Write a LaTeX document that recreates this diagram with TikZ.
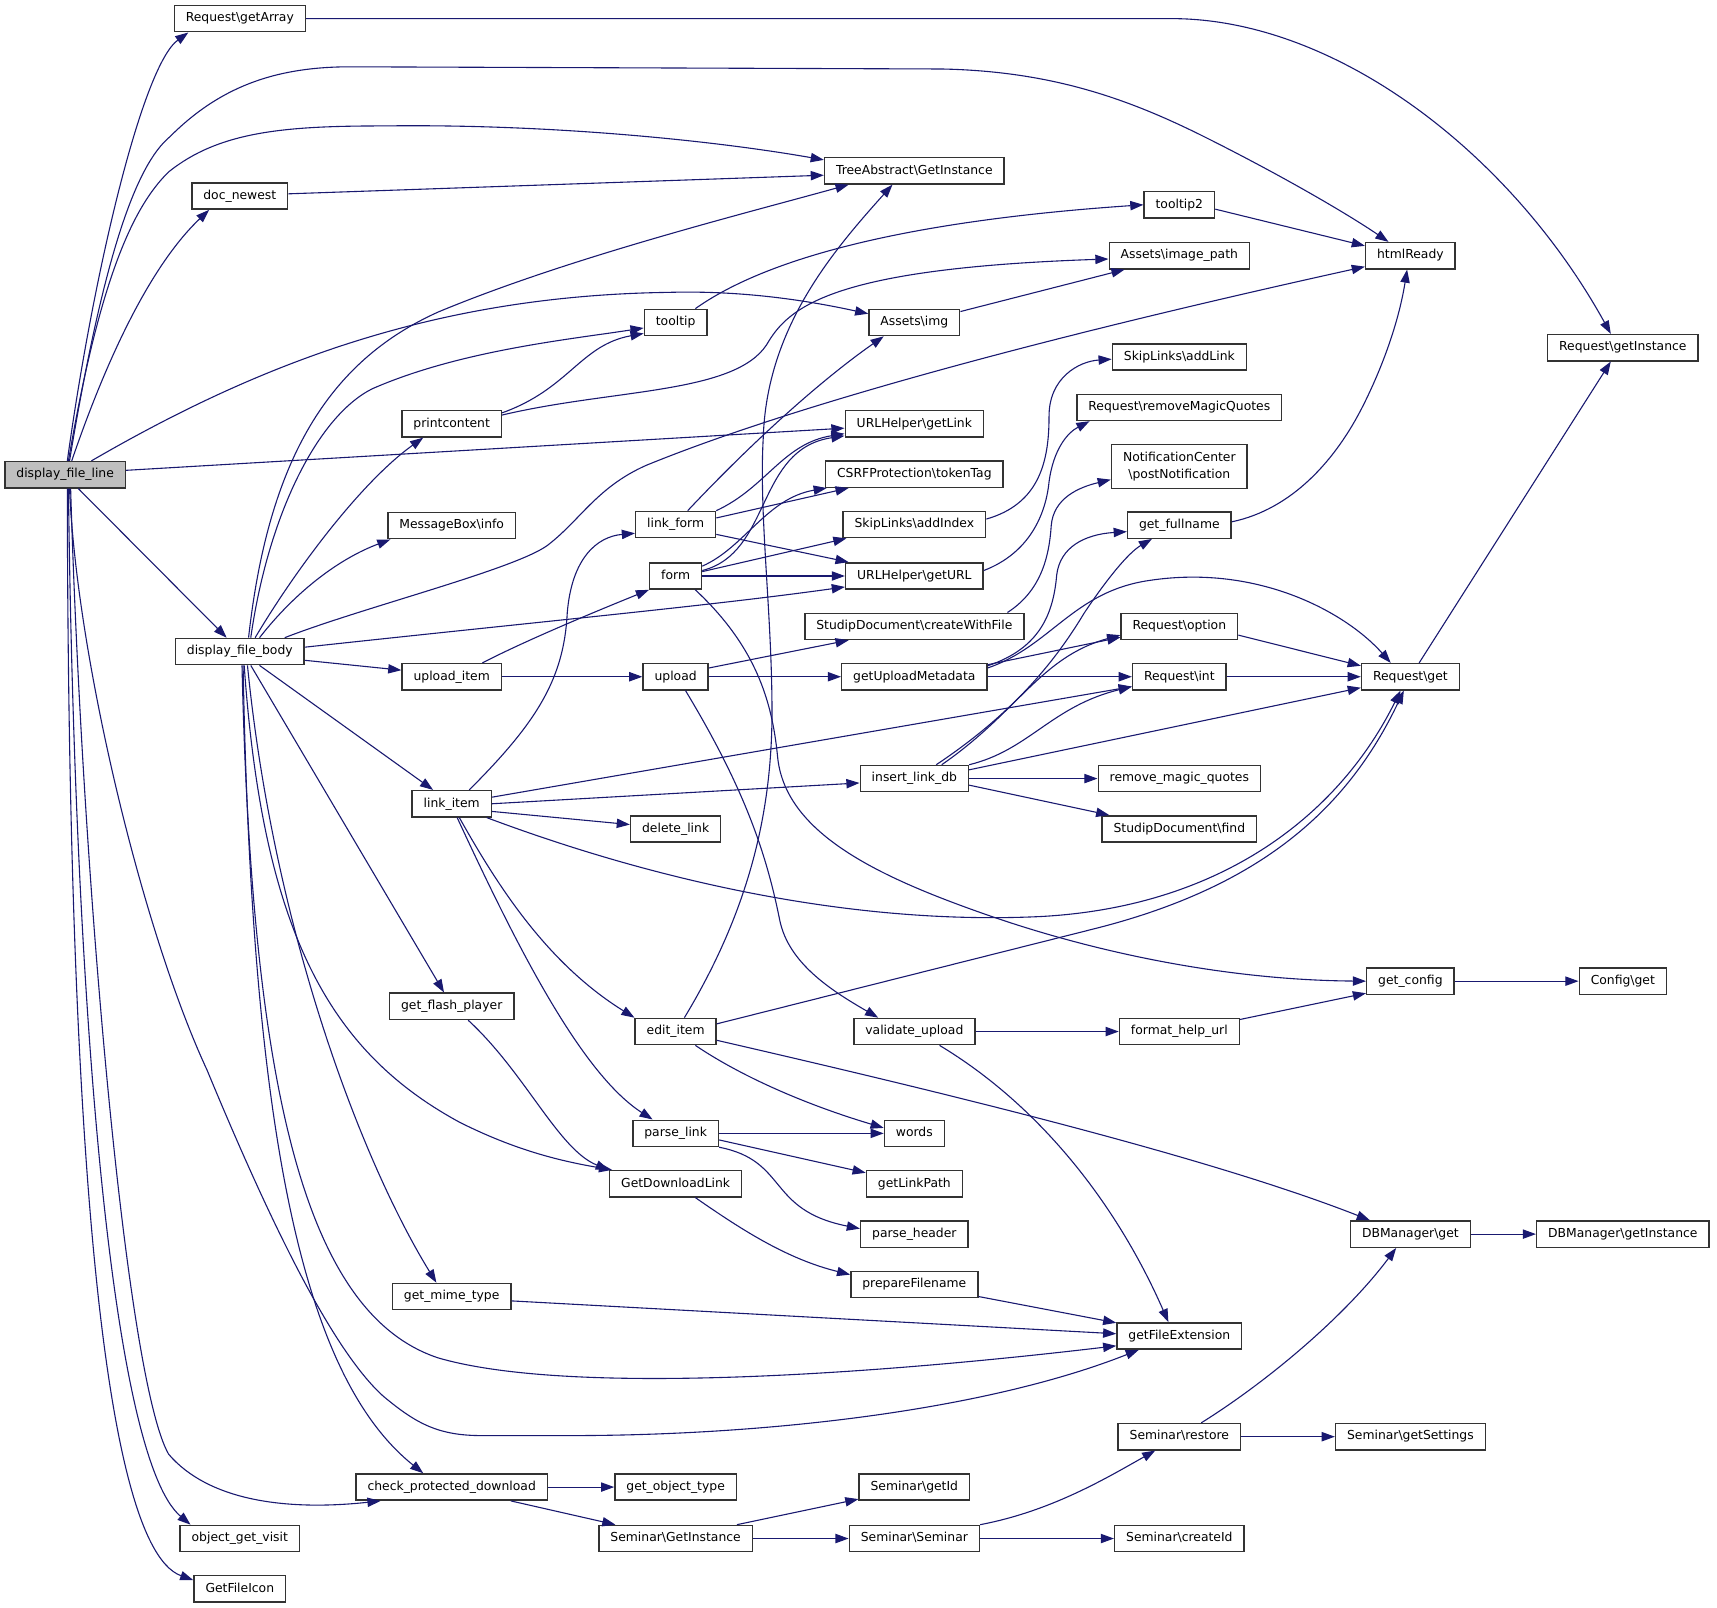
\documentclass[tikz,border=0pt]{standalone}
\usepackage{fontspec}
\setmainfont{DejaVu Sans}
\usetikzlibrary{arrows.meta}
\definecolor{edgeblue}{HTML}{191970}
\newcommand{\bsl}{\textbackslash}
\begin{document}
\begin{tikzpicture}[x=1pt,y=-1pt,
  fnb/.style={draw=black!80, line width=1.3pt, fill=white, inner xsep=10.5pt, inner ysep=0pt,
    minimum height=24pt, font=\fontsize{11.3}{14.8}\selectfont},
  fn/.style={fnb, text height=8.4pt, text depth=2.4pt},
  fnmain/.style={fn, fill=black!25},
  call/.style={draw=edgeblue, line width=1pt, -{Triangle[length=12pt,width=8.5pt]}}]
\fill[white] (0,0) rectangle (1568,1468);
\useasboundingbox (0,0) rectangle (1568,1468);

% nodes
\node[fnmain] (dfl) at (59.5,433.5) {display\_file\_line};
\node[fn] (getArray) at (219,17) {Request\bsl{}getArray};
\node[fn] (docnewest) at (219,179) {doc\_newest};
\node[fn] (dfb) at (219,595) {display\_file\_body};
\node[fn] (ogv) at (219,1405) {object\_get\_visit};
\node[fn] (gfi) at (219,1451) {GetFileIcon};
\node[fn] (printcontent) at (412.5,387) {printcontent};
\node[fn] (msgbox) at (412.5,480) {MessageBox\bsl{}info};
\node[fn] (uploaditem) at (412.5,618) {upload\_item};
\node[fn] (linkitem) at (412.5,734) {link\_item};
\node[fn] (gfp) at (412.5,919) {get\_flash\_player};
\node[fn] (gmt) at (412.5,1184) {get\_mime\_type};
\node[fn] (cpd) at (412.5,1358) {check\_protected\_download};
\node[fn] (tooltip) at (617,294.5) {tooltip};
\node[fn] (linkform) at (617,479) {link\_form};
\node[fn] (form) at (617,526) {form};
\node[fn] (upload) at (617,618) {upload};
\node[fn] (deletelink) at (617,757) {delete\_link};
\node[fn] (edititem) at (617,942) {edit\_item};
\node[fn] (parselink) at (617,1035) {parse\_link};
\node[fn] (gdl) at (617,1081) {GetDownloadLink};
\node[fn] (got) at (617,1358) {get\_object\_type};
\node[fn] (sgi) at (617,1405) {Seminar\bsl{}GetInstance};
\node[fn] (tai) at (835,156) {TreeAbstract\bsl{}GetInstance};
\node[fn] (aimg) at (835,294.5) {Assets\bsl{}img};
\node[fn] (getlink) at (835,387) {URLHelper\bsl{}getLink};
\node[fn] (csrf) at (835,433) {CSRFProtection\bsl{}tokenTag};
\node[fn] (addindex) at (835,479) {SkipLinks\bsl{}addIndex};
\node[fn] (geturl) at (835,526) {URLHelper\bsl{}getURL};
\node[fn] (createwf) at (835,572) {StudipDocument\bsl{}createWithFile};
\node[fn] (gum) at (835,618) {getUploadMetadata};
\node[fn] (ild) at (835,711) {insert\_link\_db};
\node[fn] (validate) at (835,942) {validate\_upload};
\node[fn] (words) at (835,1035) {words};
\node[fn] (getlinkpath) at (835,1081) {getLinkPath};
\node[fn] (parseheader) at (835,1127) {parse\_header};
\node[fn] (preparefn) at (835,1173) {prepareFilename};
\node[fn] (getid) at (835,1358) {Seminar\bsl{}getId};
\node[fn] (seminar) at (835,1405) {Seminar\bsl{}Seminar};
\node[fn] (tooltip2) at (1077,187) {tooltip2};
\node[fn] (imagepath) at (1077,233.5) {Assets\bsl{}image\_path};
\node[fn] (addlink) at (1077,326) {SkipLinks\bsl{}addLink};
\node[fn] (rmq) at (1077,372) {Request\bsl{}removeMagicQuotes};
\node[fnb,align=center,minimum height=40pt] (notif) at (1077,426) {NotificationCenter\\\bsl{}postNotification};
\node[fn] (fullname) at (1077,479.5) {get\_fullname};
\node[fn] (option) at (1077,572) {Request\bsl{}option};
\node[fn] (rint) at (1077,618) {Request\bsl{}int};
\node[fn] (rmagic) at (1077,711) {remove\_magic\_quotes};
\node[fn] (sdfind) at (1077,757) {StudipDocument\bsl{}find};
\node[fn] (fhu) at (1077,942) {format\_help\_url};
\node[fn] (gfe) at (1077,1220) {getFileExtension};
\node[fn] (restore) at (1077,1312) {Seminar\bsl{}restore};
\node[fn] (createid) at (1077,1405) {Seminar\bsl{}createId};
\node[fn] (htmlready) at (1288,233.5) {htmlReady};
\node[fn] (rget) at (1288,618) {Request\bsl{}get};
\node[fn] (getconfig) at (1288,896) {get\_config};
\node[fn] (dbget) at (1288,1127) {DBManager\bsl{}get};
\node[fn] (getsettings) at (1288,1312) {Seminar\bsl{}getSettings};
\node[fn] (rgetinst) at (1482,317.5) {Request\bsl{}getInstance};
\node[fn] (configget) at (1482,896) {Config\bsl{}get};
\node[fn] (dbinst) at (1482,1127) {DBManager\bsl{}getInstance};

% edges from display_file_line
\draw[call] ([xshift=2pt]dfl.north) .. controls (85,250) and (130,60) .. ([xshift=-47pt]getArray.south);
\draw[call] ([xshift=4pt]dfl.north) .. controls (95,230) and (125,150) .. (155,125) .. controls (200,80) and (250,61) .. (320,61) -- (860,63) .. controls (960,65) and (1030,90) .. (1100,125) .. controls (1170,160) and (1230,195) .. ([xshift=-20pt]htmlready.north);
\draw[call] ([xshift=3pt]dfl.north) .. controls (90,260) and (120,190) .. (154,157) .. controls (200,120) and (260,115) .. (350,115) .. controls (500,113) and (650,128) .. ([yshift=10pt]tai.west);
\draw[call] ([xshift=6pt]dfl.north) .. controls (100,320) and (140,240) .. ([xshift=-28pt]docnewest.south);
\draw[call] ([xshift=24pt]dfl.north) .. controls (240,330) and (400,270) .. (610,267) .. controls (680,265) and (740,275) .. ([yshift=8pt]aimg.west);
\draw[call] ([yshift=4pt]dfl.east) -- ([yshift=-4pt]getlink.west);
\draw[call] ([xshift=12pt]dfl.south) -- ([xshift=-12pt]dfb.north);
\draw[call] ([xshift=4pt]dfl.south) .. controls (70,600) and (130,850) .. (189,977) .. controls (240,1100) and (300,1230) .. (350,1275) .. controls (380,1300) and (400,1311) .. (440,1311) -- (520,1311) .. controls (700,1311) and (900,1288) .. ([xshift=-37pt]gfe.south);
\draw[call] ([xshift=5pt]dfl.south) .. controls (75,800) and (115,1260) .. (154,1328) .. controls (190,1370) and (260,1380) .. ([xshift=-65pt]cpd.south);
\draw[call] ([xshift=3pt]dfl.south) .. controls (68,900) and (100,1330) .. ([xshift=-45pt]ogv.north);
\draw[call] ([xshift=2pt]dfl.south) .. controls (62,950) and (85,1410) .. ([yshift=8pt]gfi.west);

\draw[call] ([yshift=2pt]docnewest.east) -- ([yshift=-4pt]tai.west);
\draw[call] (getArray.east) -- (1070,17) .. controls (1220,17) and (1380,140) .. ([xshift=-11pt]rgetinst.north);

% edges from display_file_body
\draw[call] ([xshift=8pt]dfb.north) .. controls (245,420) and (300,330) .. (400,285) .. controls (520,235) and (680,195) .. ([xshift=-60pt]tai.south);
\draw[call] ([xshift=10pt]dfb.north) .. controls (245,470) and (290,380) .. (340,355) .. controls (420,320) and (520,310) .. ([yshift=-5pt]tooltip.west);
\draw[call] ([xshift=14pt]dfb.north) .. controls (270,520) and (330,440) .. ([xshift=-26pt]printcontent.south);
\draw[call] ([xshift=18pt]dfb.north) .. controls (270,540) and (310,510) .. ([xshift=-56pt]msgbox.south);
\draw[call] ([xshift=41pt]dfb.north) .. controls (330,555) and (470,520) .. (500,498) .. controls (530,475) and (545,445) .. (590,425) .. controls (700,380) and (900,320) .. ([yshift=-10pt]htmlready.west);
\draw[call] ([yshift=4pt]dfb.east) .. controls (500,567) and (650,553) .. ([yshift=-10pt]geturl.west);
\draw[call] ([yshift=-8pt]dfb.east) -- ([yshift=6pt]uploaditem.west);
\draw[call] ([xshift=18pt]dfb.south) -- ([xshift=-17pt]linkitem.north);
\draw[call] ([xshift=10pt]dfb.south) -- ([xshift=-7pt]gfp.north);
\draw[call] ([xshift=4pt]dfb.south) .. controls (240,850) and (300,960) .. (420,1025) .. controls (470,1050) and (510,1060) .. ([xshift=-58pt]gdl.north);
\draw[call] ([xshift=7pt]dfb.south) .. controls (250,850) and (330,1060) .. ([xshift=-14pt]gmt.north);
\draw[call] ([xshift=2pt]dfb.south) .. controls (230,1000) and (280,1200) .. (400,1240) .. controls (520,1275) and (800,1255) .. ([yshift=-9pt]gfe.west);
\draw[call] ([xshift=3pt]dfb.south) .. controls (230,1050) and (280,1260) .. ([xshift=-26pt]cpd.north);

% second column
\draw[call] ([yshift=10pt]printcontent.east) .. controls (520,355) and (530,315) .. ([yshift=-10pt]tooltip.west);
\draw[call] ([yshift=8pt]printcontent.east) .. controls (560,355) and (670,360) .. (700,315) .. controls (720,280) and (760,245) .. ([yshift=-3pt]imagepath.west);
\draw[call] ([xshift=18pt]tooltip.north) .. controls (680,250) and (780,205) .. (tooltip2.west);
\draw[call] ([yshift=-4pt]tooltip2.east) -- ([yshift=9pt]htmlready.west);
\draw[call] ([yshift=10pt]aimg.east) -- ([xshift=-50pt]imagepath.south);
\draw[call] ([xshift=28pt]uploaditem.north) .. controls (480,585) and (540,560) .. (form.south west);
\draw[call] (uploaditem.east) -- (upload.west);
\draw[call] ([xshift=16pt]linkitem.north) .. controls (490,660) and (515,620) .. (518,560) .. controls (522,510) and (545,490) .. ([yshift=-8pt]linkform.west);
\draw[call] ([yshift=6pt]linkitem.east) -- ([yshift=-9pt]rint.west);
\draw[call] (linkitem.east) -- ([yshift=-4pt]ild.west);
\draw[call] ([yshift=-7pt]linkitem.east) -- ([yshift=4pt]deletelink.west);
\draw[call] ([xshift=32pt]linkitem.south) .. controls (600,805) and (780,845) .. (950,837) .. controls (1120,828) and (1225,740) .. ([xshift=-9pt]rget.south);
\draw[call] ([xshift=7pt]linkitem.south) .. controls (455,810) and (500,880) .. (edititem.north west);
\draw[call] ([xshift=5pt]linkitem.south) .. controls (470,860) and (530,980) .. ([xshift=-21pt]parselink.north);

% third column
\draw[call] ([xshift=11pt]linkform.north) .. controls (700,390) and (760,340) .. ([xshift=-28pt]aimg.south);
\draw[call] (linkform.north east) .. controls (700,445) and (715,405) .. ([yshift=-9pt]getlink.west);
\draw[call] ([yshift=5pt]form.east) .. controls (705,505) and (690,410) .. ([yshift=-11pt]getlink.west);
\draw[call] ([yshift=6pt]linkform.east) -- ([xshift=-60pt]csrf.south);
\draw[call] ([yshift=9pt]form.east) .. controls (680,500) and (700,455) .. ([xshift=-80pt]csrf.south);
\draw[call] ([yshift=4pt]form.east) -- ([xshift=-62pt]addindex.south);
\draw[call] (form.east) -- (geturl.west);
\draw[call] ([yshift=-9pt]linkform.east) -- ([xshift=-60pt]geturl.north);
\draw[call] ([xshift=18pt]form.south) .. controls (690,590) and (705,640) .. (710,690) .. controls (716,760) and (800,800) .. (900,835) .. controls (1000,870) and (1120,895) .. (getconfig.west);
\draw[call] ([yshift=8pt]upload.east) -- ([xshift=-60pt]createwf.south);
\draw[call] (upload.east) -- (gum.west);
\draw[call] ([xshift=9pt]upload.south) .. controls (680,720) and (700,780) .. (712,840) .. controls (720,880) and (760,905) .. ([xshift=-33pt]validate.north);
\draw[call] ([xshift=8pt]edititem.north) .. controls (685,830) and (705,740) .. (705,650) .. controls (705,560) and (693,470) .. (697,400) .. controls (700,300) and (760,230) .. ([xshift=-20pt]tai.south);
\draw[call] ([yshift=7pt]edititem.east) -- (1000,848) .. controls (1150,810) and (1230,740) .. ([xshift=-6pt]rget.south);
\draw[call] ([xshift=18pt]edititem.south) .. controls (680,985) and (740,1010) .. ([yshift=5pt]words.west);
\draw[call] ([yshift=-8pt]edititem.east) .. controls (850,995) and (1100,1055) .. ([xshift=-37pt]dbget.north);
\draw[call] (parselink.east) -- (words.west);
\draw[call] ([yshift=-6pt]parselink.east) -- ([yshift=10pt]getlinkpath.west);
\draw[call] (parselink.south east) .. controls (720,1060) and (700,1105) .. ([yshift=5pt]parseheader.west);
\draw[call] ([xshift=18pt]gdl.south) .. controls (680,1125) and (720,1150) .. ([yshift=9pt]preparefn.west);
\draw[call] ([xshift=15pt]gfp.south) .. controls (480,980) and (510,1050) .. (gdl.north west);
\draw[call] ([yshift=-4pt]gmt.east) -- ([yshift=2pt]gfe.west);
\draw[call] ([yshift=-11pt]preparefn.east) -- ([yshift=12pt]gfe.west);
\draw[call] (validate.east) -- (fhu.west);
\draw[call] ([xshift=23pt]validate.south) .. controls (950,1010) and (1020,1100) .. ([xshift=-10pt]gfe.north);
\draw[call] ([yshift=11pt]fhu.east) -- ([yshift=-11pt]getconfig.west);
\draw[call] (getconfig.east) -- (configget.west);
\draw[call] (cpd.east) -- (got.west);
\draw[call] ([xshift=54pt]cpd.south) -- ([xshift=-55pt]sgi.north);
\draw[call] ([xshift=56pt]sgi.north) -- ([yshift=-11pt]getid.west);
\draw[call] (sgi.east) -- (seminar.west);
\draw[call] (seminar.north east) .. controls (960,1380) and (1010,1350) .. ([xshift=-22pt]restore.south);
\draw[call] (seminar.east) -- (createid.west);
\draw[call] (restore.east) -- (getsettings.west);
\draw[call] ([xshift=20pt]restore.north) .. controls (1160,1260) and (1230,1200) .. ([xshift=-13pt]dbget.south);
\draw[call] (dbget.east) -- (dbinst.west);

% fourth column
\draw[call] ([yshift=5pt]addindex.east) .. controls (950,460) and (958,420) .. (958,380) .. controls (958,345) and (985,330) .. ([yshift=-2pt]addlink.west);
\draw[call] ([yshift=5pt]geturl.east) .. controls (940,505) and (955,470) .. (958,440) .. controls (962,410) and (975,395) .. ([xshift=-82pt]rmq.south);
\draw[call] ([xshift=85pt]createwf.north) .. controls (950,540) and (958,510) .. (960,480) .. controls (962,455) and (985,445) .. ([yshift=-12pt]notif.west);
\draw[call] ([yshift=10pt]gum.east) .. controls (950,592) and (962,560) .. (965,525) .. controls (968,500) and (990,488) .. ([yshift=-6pt]fullname.west);
\draw[call] ([yshift=11pt]gum.east) -- ([yshift=-10pt]option.west);
\draw[call] (gum.east) -- (rint.west);
\draw[call] ([yshift=8pt]gum.east) .. controls (960,590) and (980,540) .. (1050,530) .. controls (1150,515) and (1230,560) .. ([xshift=-18pt]rget.north);
\draw[call] ([xshift=20pt]ild.north) .. controls (920,655) and (960,610) .. (990,560) .. controls (1010,530) and (1030,505) .. ([xshift=-25pt]fullname.south);
\draw[call] ([xshift=25pt]ild.north) .. controls (930,650) and (950,600) .. ([yshift=-8pt]option.west);
\draw[call] (ild.north east) .. controls (940,685) and (960,645) .. ([yshift=-9pt]rint.west);
\draw[call] ([yshift=8pt]ild.east) -- ([yshift=-10pt]rget.west);
\draw[call] (ild.east) -- (rmagic.west);
\draw[call] ([yshift=-6pt]ild.east) -- ([xshift=-64pt]sdfind.north);

% fifth column
\draw[call] ([yshift=3pt]fullname.east) .. controls (1180,465) and (1220,420) .. (1245,370) .. controls (1265,330) and (1278,290) .. ([xshift=-3pt]htmlready.south);
\draw[call] ([yshift=-8pt]option.east) -- ([yshift=10pt]rget.west);
\draw[call] (rint.east) -- (rget.west);
\draw[call] ([xshift=8pt]rget.north) -- ([xshift=-11pt]rgetinst.south);
\end{tikzpicture}
\end{document}
